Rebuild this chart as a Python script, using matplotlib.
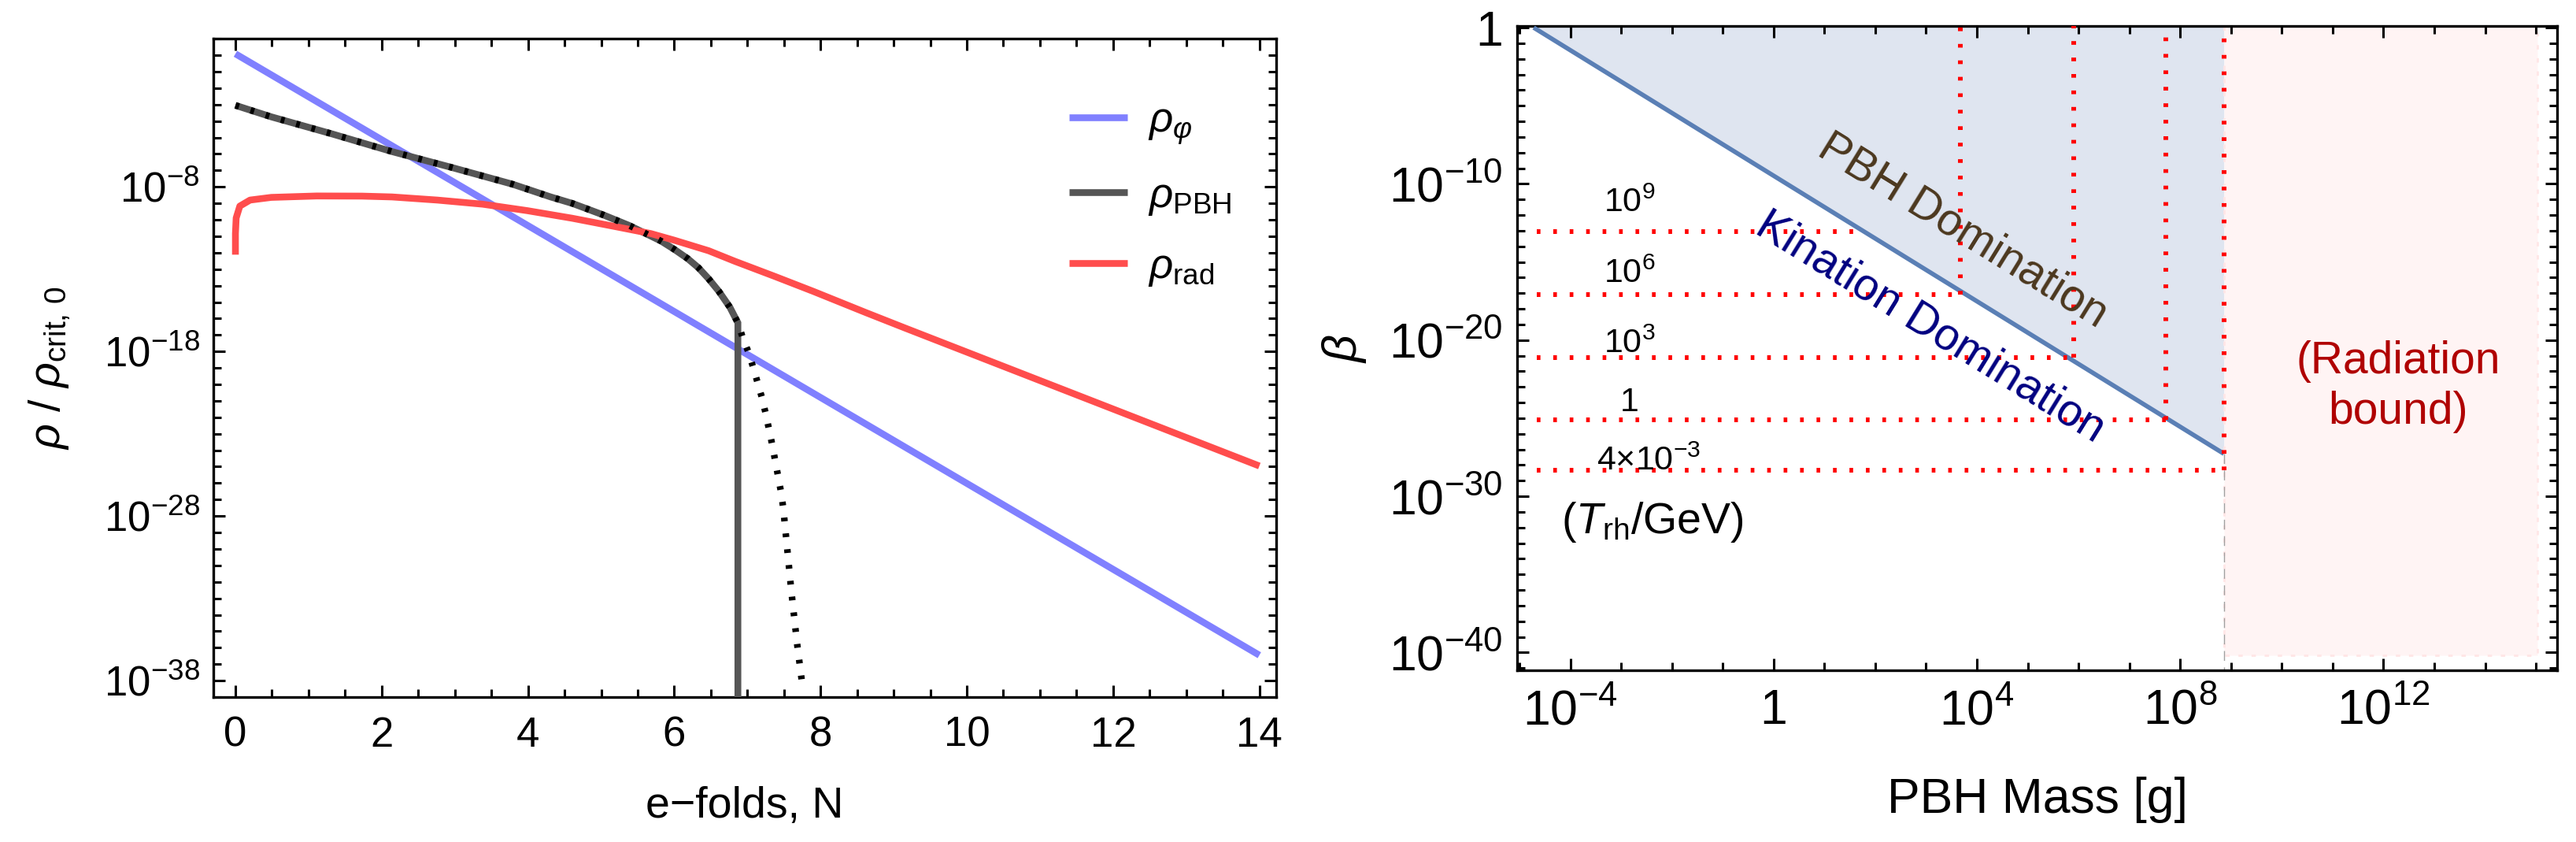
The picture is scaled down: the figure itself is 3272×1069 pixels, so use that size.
import numpy as np
import matplotlib
matplotlib.use("Agg")
import matplotlib.pyplot as plt
from matplotlib.ticker import FixedLocator, MultipleLocator, FuncFormatter, NullFormatter

plt.rcParams['font.family'] = ['Liberation Sans', 'DejaVu Sans']
plt.rcParams['mathtext.fontset'] = 'custom'
plt.rcParams['mathtext.rm'] = 'Liberation Sans'
plt.rcParams['mathtext.it'] = 'Liberation Sans:italic'
plt.rcParams['mathtext.bf'] = 'Liberation Sans:bold'
plt.rcParams['mathtext.sf'] = 'Liberation Sans'

# ---------------- Left panel data: energy densities vs e-folds ----------------
N_phi = [0.0, 14.0]
rho_phi = [1.22e0, 3.5e-37]

N_pbh = [0.0, 0.49, 1.32, 2.14, 2.96, 3.79, 4.31, 4.61, 5.04, 5.39, 5.82, 6.00,
         6.18, 6.33, 6.47, 6.61, 6.76, 6.87, 6.87]
rho_pbh = [9.0e-4, 1.8e-4, 1.66e-5, 1.4e-6, 1.5e-7, 1.45e-8, 2.45e-9, 9.8e-10,
           1.9e-10, 4.4e-11, 5.1e-12, 1.6e-12, 4.5e-13, 1.23e-13, 2.6e-14,
           4.5e-15, 4.9e-16, 5.5e-17, 1e-45]

N_pbh_tail = [6.935, 7.015, 7.08, 7.14, 7.20, 7.25, 7.295, 7.34, 7.38, 7.42,
              7.46, 7.49, 7.545, 7.60, 7.68, 7.75]
rho_pbh_tail = [7.2e-18, 8.9e-19, 1.05e-19, 1.26e-20, 1.5e-21, 1.7e-22, 1.9e-23,
                2.1e-24, 2.3e-25, 2.6e-26, 2.8e-27, 3.2e-28, 1.0e-30, 3.0e-33,
                1.7e-36, 5.9e-39]

N_rad = [0.0, 0.0, 0.01, 0.06, 0.20, 0.49, 1.11, 1.73, 2.14, 2.76, 3.38, 3.99,
         4.61, 5.23, 5.68, 6.00, 6.47, 6.83, 7.37, 7.90, 8.62, 9.16, 14.0]
rho_rad = [7.6e-13, 1.45e-11, 1.29e-10, 6.8e-10, 1.58e-9, 2.3e-9, 2.8e-9, 2.75e-9,
           2.45e-9, 1.58e-9, 8.9e-10, 3.6e-10, 1.23e-10, 3.6e-11, 1.45e-11,
           5.75e-12, 1.32e-12, 3.0e-13, 3.7e-14, 4.5e-15, 2.3e-16, 2.6e-17, 1.1e-25]

left_labels = [r"$\rho_{\varphi}$", r"$\rho_{\mathrm{PBH}}$", r"$\rho_{\mathrm{rad}}$"]
left_yticks = [1e-8, 1e-18, 1e-28, 1e-38]

# ---------------- Right panel data: beta vs PBH mass ----------------
M_line = [10**-4.72, 10**8.86]
beta_line = [1.0, 10**-27.28]

T_labels = [r"$10^{9}$", r"$10^{6}$", r"$10^{3}$", "1", r"4×$10^{-3}$"]
beta_T = [10**-13.08, 10**-17.08, 10**-21.10, 10**-25.10, 10**-28.33]
M_T = [10**1.70, 10**3.68, 10**5.90, 10**7.71, 10**8.86]
M_T_start = 10**-4.66

M_rad = [10**8.86, 10**15.03]
beta_rad_floor = 10**-40.17

right_xticks = [1e-4, 1e0, 1e4, 1e8, 1e12]
right_yticks = [1e0, 1e-10, 1e-20, 1e-30, 1e-40]

# ---------------- Figure ----------------
fig = plt.figure(figsize=(32.73, 10.69), dpi=100)
ax1 = fig.add_axes([0.08271, 0.17212, 0.41255, 0.78204])
ax2 = fig.add_axes([0.58867, 0.20393, 0.40378, 0.76492])

def logfmt(v, pos):
    k = int(round(np.log10(v)))
    if k == 0:
        return "1"
    return r"$10^{%d}$" % k

for ax in (ax1, ax2):
    for s in ax.spines.values():
        s.set_linewidth(2.4)
    ax.tick_params(which='both', direction='in', top=True, right=True, width=2.2)
    ax.tick_params(which='major', length=11)
    ax.tick_params(which='minor', length=7.5)

# ---- Left panel ----
l_phi, = ax1.plot(N_phi, rho_phi, color='#8080ff', lw=6.2, solid_capstyle='butt', zorder=2)
l_pbh, = ax1.plot(N_pbh, rho_pbh, color='#555555', lw=6.2, solid_capstyle='butt',
                  solid_joinstyle='miter', zorder=3)
l_rad, = ax1.plot(N_rad, rho_rad, color='#ff4d4d', lw=6.2, solid_capstyle='butt', zorder=4)
ax1.plot(N_pbh[:-1] + N_pbh_tail, rho_pbh[:-1] + rho_pbh_tail, color='black', lw=6.0,
         linestyle=(0, (0.57, 1.85)), dash_capstyle='butt', zorder=5)

ax1.set_yscale('log')
ax1.set_xlim(-0.305, 14.23)
ax1.set_ylim(1e-39, 10**1.01)
ax1.xaxis.set_major_locator(MultipleLocator(2))
ax1.xaxis.set_minor_locator(MultipleLocator(0.5))
ax1.xaxis.set_major_formatter(FuncFormatter(lambda v, p: "%d" % round(v)))
ax1.yaxis.set_major_locator(FixedLocator(left_yticks))
ax1.yaxis.set_minor_locator(FixedLocator(10.0 ** np.arange(-39, 2)))
ax1.yaxis.set_major_formatter(FuncFormatter(logfmt))
ax1.yaxis.set_minor_formatter(NullFormatter())
ax1.tick_params(axis='x', which='both', labelsize=38, pad=17)
ax1.tick_params(axis='y', which='both', labelsize=38, pad=12)

ax1.set_xlabel("e\u2212folds, N", fontsize=40)
ax1.set_ylabel(r"$\rho\ /\ \rho_{\mathrm{crit},\,0}$", fontsize=40)
ax1.xaxis.label.set_va('center')
ax1.xaxis.set_label_coords(0.5, -0.1663)
ax1.yaxis.label.set_va('center')
ax1.yaxis.label.set_ha('center')
ax1.yaxis.set_label_coords(-0.1538, 0.5)

leg = ax1.legend([l_phi, l_pbh, l_rad], left_labels, loc='upper left',
                 bbox_to_anchor=(0.8052, 0.905), frameon=False, fontsize=38,
                 handlelength=1.4, handletextpad=0.5, labelspacing=0.72,
                 borderpad=0, borderaxespad=0)

# ---- Right panel ----
ax2.set_xscale('log')
ax2.set_yscale('log')
ax2.set_xlim(10**-5.05, 10**15.42)
TOP = 10**0.086
ax2.set_ylim(10**-41.14, TOP)

ax2.fill_between(M_line, beta_line, TOP, color='#dfe5f0', lw=0, zorder=1)
ax2.fill_between(M_rad, beta_rad_floor, TOP, facecolor='#fff4f4', edgecolor='#ffe6e6',
                 lw=2.0, linestyle=(0, (2, 4)), zorder=1)
ax2.plot([M_line[1], M_line[1]], [beta_line[1], 10**-41.14], color='#a0a0a0', lw=1.0,
         linestyle=(0, (9, 6)), zorder=2)
ax2.plot(M_line, beta_line, color='#5a7fb5', lw=4.1, solid_capstyle='butt', zorder=3)

red_dots = (0, (0.78, 2.72))
for i in range(len(beta_T)):
    ax2.plot([M_T_start, M_T[i]], [beta_T[i], beta_T[i]], color='#ff0000', lw=4.3,
             linestyle=red_dots, dash_capstyle='butt', zorder=4)
    if i > 0:
        ax2.plot([M_T[i], M_T[i]], [beta_T[i], TOP], color='#ff0000', lw=4.3,
                 linestyle=red_dots, dash_capstyle='butt', zorder=4)

ax2.xaxis.set_major_locator(FixedLocator(right_xticks))
ax2.xaxis.set_minor_locator(FixedLocator(10.0 ** np.arange(-5, 16)))
ax2.yaxis.set_major_locator(FixedLocator(right_yticks))
ax2.yaxis.set_minor_locator(FixedLocator(10.0 ** np.arange(-41, 1)))
ax2.xaxis.set_major_formatter(FuncFormatter(logfmt))
ax2.yaxis.set_major_formatter(FuncFormatter(logfmt))
ax2.xaxis.set_minor_formatter(NullFormatter())
ax2.yaxis.set_minor_formatter(NullFormatter())
ax2.tick_params(axis='x', which='both', labelsize=45, pad=16)
ax2.tick_params(axis='y', which='both', labelsize=45, pad=13)

ax2.set_xlabel("PBH Mass [g]", fontsize=45)
ax2.set_ylabel(r"$\beta$", fontsize=44)
ax2.xaxis.label.set_va('center')
ax2.xaxis.set_label_coords(0.5, -0.2006)
ax2.yaxis.label.set_va('center')
ax2.yaxis.label.set_ha('center')
ax2.yaxis.set_label_coords(-0.1662, 0.5)

# T_rh labels
label_M = 10**-2.84
label_base = [10**-11.82, 10**-16.35, 10**-20.81, 10**-24.57]
for txt, yb in zip(T_labels[:4], label_base):
    ax2.text(label_M, yb, txt, fontsize=31, ha='center', va='baseline', zorder=6)
ax2.text(10**-2.45, 10**-28.33, T_labels[4], fontsize=31, ha='center', va='baseline', zorder=6)
ax2.text(10**-2.39, 10**-32.36, r"($T_{\mathrm{rh}}$/GeV)", fontsize=40, ha='center',
         va='baseline', zorder=6)

# rotated region labels
p = ax2.transData.transform([[M_line[0], beta_line[0]], [M_line[1], beta_line[1]]])
ang = np.degrees(np.arctan2(p[1, 1] - p[0, 1], p[1, 0] - p[0, 0]))
ax2.text(10**3.73, 10**-13.02, "PBH Domination", color='#4b371e', fontsize=41,
         rotation=ang, rotation_mode='anchor', ha='center', va='center', zorder=6)
ax2.text(10**3.08, 10**-19.21, "Kination Domination", color='#000080', fontsize=41,
         rotation=ang, rotation_mode='anchor', ha='center', va='center', zorder=6)
ax2.text(10**12.29, 10**-22.99, "(Radiation\nbound)", color='#b00000', fontsize=41,
         ha='center', va='center', multialignment='center', linespacing=1.25, zorder=6)

fig.savefig("out.png", dpi=100)
